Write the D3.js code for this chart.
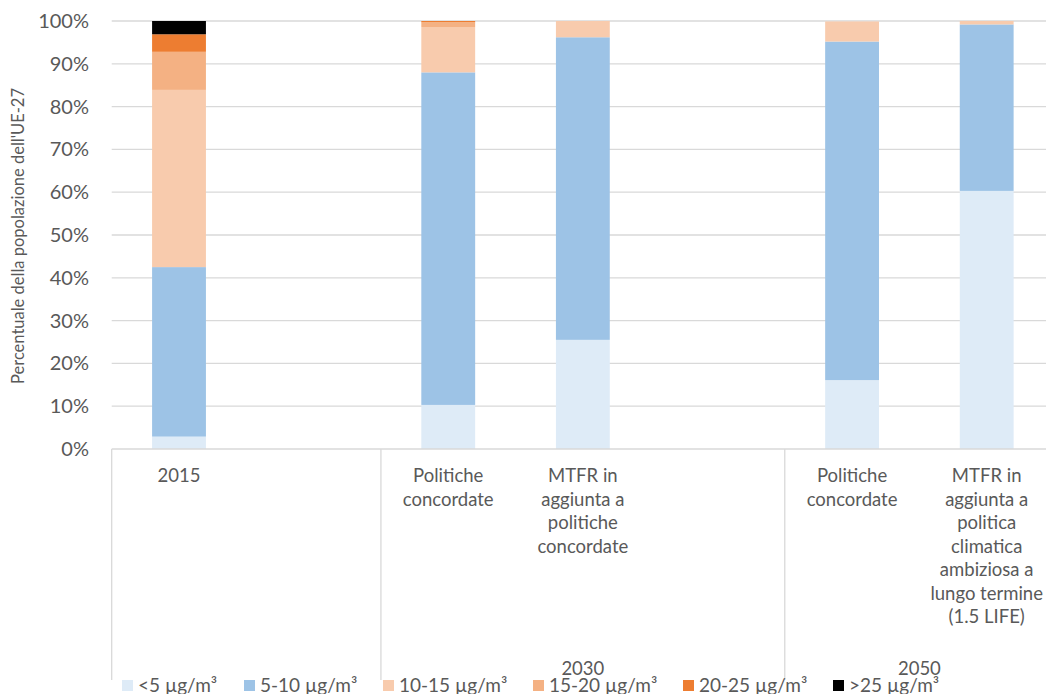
<!DOCTYPE html>
<html>
<head>
<meta charset="utf-8">
<script src="https://cdn.jsdelivr.net/npm/d3@7"></script>
<style>
  body { margin: 0; background: #fff; }
  text { font-family: Lato, "Open Sans", sans-serif; fill: #595959; }
</style>
</head>
<body>
<div id="chart"></div>
<script>
var svgWidth = 1046;
var svgHeight = 694;

// categories (empty slots leave gaps like the original)
var categories = ["2015", "", "Politiche concordate", "MTFR 2030", "", "Politiche concordate 2050", "MTFR 2050"];
var catLabels = [
    ["2015"],
    [],
    ["Politiche", "concordate"],
    ["MTFR in", "aggiunta a", "politiche", "concordate"],
    [],
    ["Politiche", "concordate"],
    ["MTFR in", "aggiunta a", "politica", "climatica", "ambiziosa a", "lungo termine", "(1.5 LIFE)"]
];
var groupLabels = ["", "2030", "2050"];
var groupStarts = [0, 2, 5];
var groupEnds = [2, 5, 7];

var seriesNames = ["<5 µg/m³", "5-10 µg/m³", "10-15 µg/m³", "15-20 µg/m³", "20-25 µg/m³", ">25 µg/m³"];
var seriesColors = ["#DEEBF7", "#9DC3E6", "#F8CBAD", "#F4B183", "#ED7D31", "#000000"];

var s_lt5   = [2.9, 0, 10.3, 25.5, 0, 16.1, 60.3];
var s_5_10  = [39.6, 0, 77.7, 70.7, 0, 79.1, 38.9];
var s_10_15 = [41.4, 0, 10.6, 3.8, 0, 4.7, 0.8];
var s_15_20 = [8.9, 0, 1.1, 0, 0, 0, 0];
var s_20_25 = [4.1, 0, 0.3, 0, 0, 0, 0];
var s_gt25  = [3.1, 0, 0, 0, 0, 0, 0];

var yTicks = [0, 10, 20, 30, 40, 50, 60, 70, 80, 90, 100];

var margin = { top: 21, left: 111.7, bottom: 245 };
var plotRight = 1054;
var height = svgHeight - margin.top - margin.bottom; // 428

var svg = d3.select("#chart").append("svg")
    .attr("width", svgWidth)
    .attr("height", svgHeight);

var rows = categories.map(function(c, i) {
    return { i: i, a: s_lt5[i], b: s_5_10[i], c: s_10_15[i], d: s_15_20[i], e: s_20_25[i], f: s_gt25[i] };
});
var keys = ["a", "b", "c", "d", "e", "f"];
var stacked = d3.stack().keys(keys)(rows);

var x = d3.scaleBand()
    .domain(d3.range(categories.length))
    .range([margin.left, plotRight])
    .paddingInner(0.6)
    .paddingOuter(0.3);

var y = d3.scaleLinear()
    .domain([0, 100])
    .range([margin.top + height, margin.top]);

var step = x.step();
function slotEdge(k) { return margin.left + k * step; }

// gridlines
svg.append("g")
    .selectAll("line").data(yTicks.slice(1)).enter()
    .append("line")
    .attr("x1", margin.left).attr("x2", plotRight)
    .attr("y1", d => y(d)).attr("y2", d => y(d))
    .attr("stroke", "#d9d9d9").attr("stroke-width", 1.3);

// y labels
svg.append("g")
    .selectAll("text").data(yTicks).enter()
    .append("text")
    .attr("x", 89)
    .attr("y", d => y(d) + 7)
    .attr("text-anchor", "end")
    .attr("font-size", "20px")
    .text(d => d + "%");

// bars
svg.append("g")
    .selectAll("g").data(stacked).enter()
    .append("g")
    .attr("fill", (d, i) => seriesColors[i])
    .selectAll("rect").data(d => d).enter()
    .append("rect")
    .attr("x", d => x(d.data.i))
    .attr("width", x.bandwidth())
    .attr("y", d => y(d[1]))
    .attr("height", d => y(d[0]) - y(d[1]));

// baseline and group dividers
svg.append("line")
    .attr("x1", margin.left).attr("x2", plotRight)
    .attr("y1", y(0)).attr("y2", y(0))
    .attr("stroke", "#d9d9d9").attr("stroke-width", 1.3);

svg.append("g")
    .selectAll("line").data(groupStarts).enter()
    .append("line")
    .attr("x1", d => slotEdge(d)).attr("x2", d => slotEdge(d))
    .attr("y1", y(0)).attr("y2", 680)
    .attr("stroke", "#d9d9d9").attr("stroke-width", 1.3);

// category labels
var catG = svg.append("g");
catLabels.forEach(function(lines, i) {
    var t = catG.append("text")
        .attr("text-anchor", "middle")
        .attr("font-size", "18.5px")
        .attr("x", x(i) + x.bandwidth() / 2)
        .attr("y", 482);
    lines.forEach(function(l, j) {
        t.append("tspan")
            .attr("x", x(i) + x.bandwidth() / 2)
            .attr("dy", j === 0 ? 0 : 23.5)
            .text(l);
    });
});

// group labels (they touch the legend row, as in the original)
svg.append("g")
    .selectAll("text").data(groupLabels).enter()
    .append("text")
    .attr("text-anchor", "middle")
    .attr("font-size", "18.5px")
    .attr("x", (d, i) => (slotEdge(groupStarts[i]) + slotEdge(groupEnds[i])) / 2)
    .attr("y", 675)
    .text(d => d);

// y title
svg.append("text")
    .attr("transform", "translate(24," + (margin.top + height / 2 + 1) + ") rotate(-90)")
    .attr("text-anchor", "middle")
    .attr("font-size", "16.5px")
    .text("Percentuale della popolazione dell'UE-27");

// legend
var legendX = [122, 244, 383, 533, 683, 833];
var leg = svg.append("g").selectAll("g").data(seriesNames).enter()
    .append("g")
    .attr("transform", (d, i) => "translate(" + legendX[i] + ",680)");
leg.append("rect")
    .attr("width", 11).attr("height", 11)
    .attr("fill", (d, i) => seriesColors[i]);
leg.append("text")
    .attr("x", 16).attr("y", 12)
    .attr("font-size", "19px")
    .text(d => d);
</script>
</body>
</html>
